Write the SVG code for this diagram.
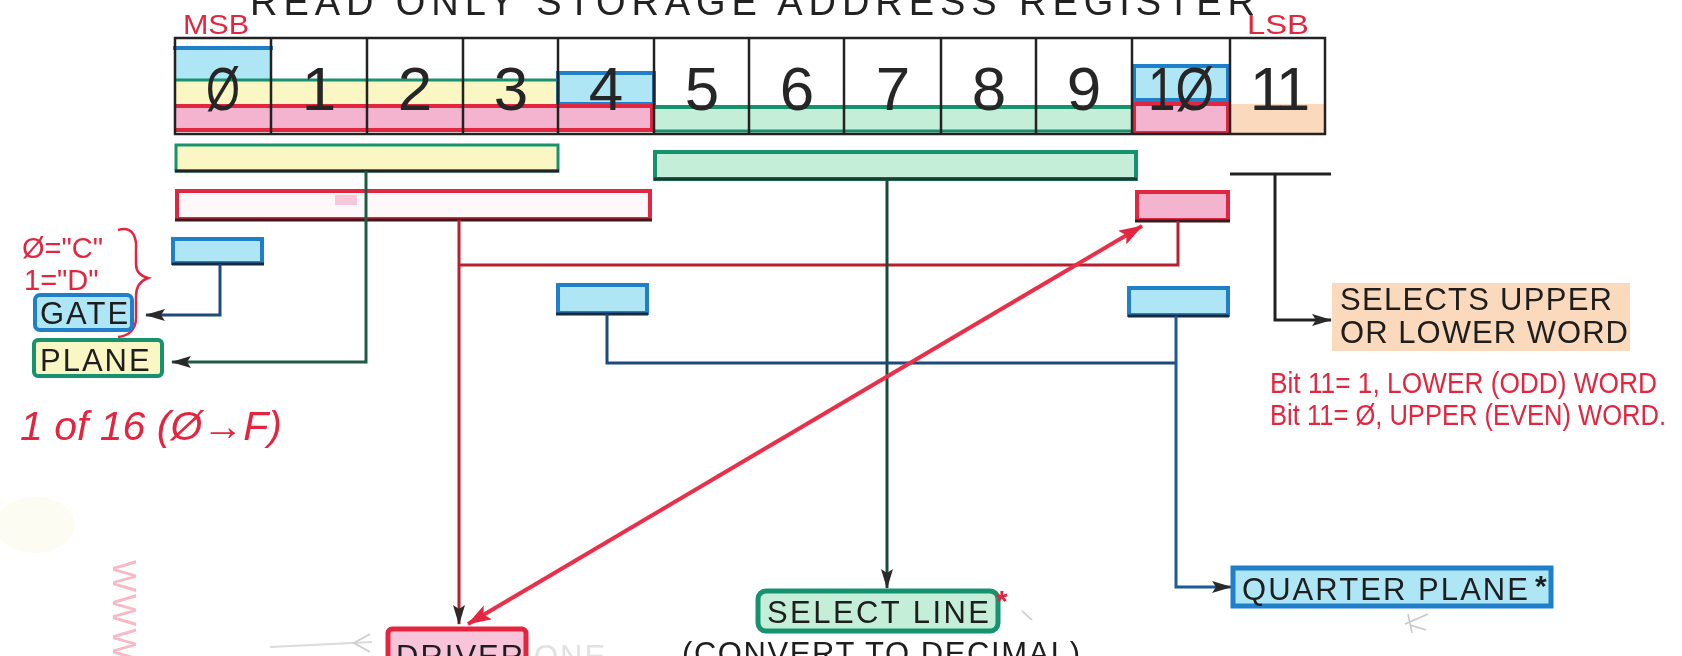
<svg xmlns="http://www.w3.org/2000/svg" width="1682" height="656" viewBox="0 0 1682 656">
<style>
  .sans{font-family:"Liberation Sans",Arial,sans-serif}
  .digit{font-family:"Liberation Sans",Arial,sans-serif;font-size:62px;fill:#262626;text-anchor:middle}
  .lbl{font-family:"Liberation Sans",Arial,sans-serif;font-size:31px;fill:#1e1e1e;letter-spacing:2px}
  .hand{font-family:"Liberation Sans",Arial,sans-serif;fill:#e3263f}
  .cyan{fill:#aee6f5}
  .yel{fill:#fbf7c4}
  .lgrn{fill:#c4eed8}
  .pink{fill:#f4b3cf}
  .peach{fill:#fad9bd}
  .bstroke{stroke:#1f7fc8;stroke-width:4}
  .gstroke{stroke:#16936e;stroke-width:4}
  .rstroke{stroke:#e3263f;stroke-width:4}
  .cell{fill:none;stroke:#222;stroke-width:2.5}
  .conn{fill:none;stroke-width:3}
</style>
<defs>
  <marker id="ahK" markerWidth="20" markerHeight="12" refX="19" refY="6" orient="auto" markerUnits="userSpaceOnUse">
    <path d="M0,0 L20,6 L0,12 L4,6 z" fill="#2a2a2a"/>
  </marker>
  <marker id="ahR" markerWidth="24" markerHeight="16" refX="23" refY="8" orient="auto-start-reverse" markerUnits="userSpaceOnUse">
    <path d="M0,0 L24,8 L0,16 L5,8 z" fill="#e3263f"/>
  </marker>
</defs>
<rect width="1682" height="656" fill="#ffffff"/>

<!-- faint background marks -->
<g id="faint" opacity="0.55">
  <ellipse cx="35" cy="525" rx="40" ry="28" fill="#fcfae8"/>
  <text class="sans" x="0" y="0" font-size="34" fill="#f27e95" transform="translate(113,560) rotate(90)" letter-spacing="2">WWW</text>
  <path d="M270,647 L372,642" stroke="#bdbdbd" stroke-width="2" fill="none"/>
  <path d="M370,634 L354,643 L370,652" stroke="#a8a8a8" stroke-width="2" fill="none"/>
  <text class="sans" x="534" y="667" font-size="31" fill="#c8c8c8" letter-spacing="2">ONE</text>
  <path d="M1022,611 L1032,620" stroke="#9a9a9a" stroke-width="1.5" fill="none"/>
  <path d="M1408,614 L1412,633 M1405,624 L1428,614 M1410,625 L1426,630" stroke="#9a9a9a" stroke-width="1.5" fill="none"/>
</g>

<!-- title (cut at top) -->
<g id="title">
  <text class="sans" x="250" y="15" font-size="38" fill="#222" textLength="1005" lengthAdjust="spacing">READ ONLY STORAGE ADDRESS REGISTER</text>
  <text class="hand" x="183" y="34" font-size="28" textLength="66" lengthAdjust="spacingAndGlyphs">MSB</text>
  <text class="hand" x="1247" y="34" font-size="28" textLength="62" lengthAdjust="spacingAndGlyphs">LSB</text>
</g>

<!-- register -->
<g id="register">
  <rect x="175" y="47" width="96" height="33" class="cyan"/>
  <line x1="173" y1="48" x2="273" y2="48" class="bstroke"/>
  <rect x="175" y="80" width="383" height="26" class="yel"/>
  <line x1="175" y1="80" x2="558" y2="80" stroke="#16936e" stroke-width="3"/>
  <rect x="175" y="106" width="479" height="24" class="pink"/>
  <rect x="558" y="73" width="96" height="31" class="cyan bstroke"/>
  <line x1="175" y1="106" x2="654" y2="106" class="rstroke"/>
  <line x1="175" y1="130" x2="654" y2="130" class="rstroke"/>
  <line x1="652" y1="104" x2="652" y2="132" class="rstroke"/>
  <rect x="654" y="107" width="478" height="25" class="lgrn"/>
  <line x1="654" y1="107" x2="1132" y2="107" class="gstroke"/>
  <line x1="654" y1="131" x2="1132" y2="131" stroke="#16936e" stroke-width="3"/>
  <rect x="1134" y="66" width="94" height="34" class="cyan bstroke"/>
  <rect x="1134" y="104" width="94" height="29" class="pink rstroke"/>
  <rect x="1230" y="104" width="95" height="30" class="peach"/>
  <rect x="175" y="38" width="1150" height="96" class="cell"/>
  <path class="cell" d="M271,38V134 M367,38V134 M463,38V134 M558,38V134 M654,38V134 M749,38V134 M844,38V134 M941,38V134 M1036,38V134 M1132,38V134 M1230,38V134"/>
  <text class="digit" x="223" y="110" textLength="34" lengthAdjust="spacingAndGlyphs">Ø</text>
  <text class="digit" x="319" y="110">1</text>
  <text class="digit" x="415" y="110">2</text>
  <text class="digit" x="511" y="110">3</text>
  <text class="digit" x="606" y="110">4</text>
  <text class="digit" x="702" y="110">5</text>
  <text class="digit" x="797" y="110">6</text>
  <text class="digit" x="893" y="110">7</text>
  <text class="digit" x="989" y="110">8</text>
  <text class="digit" x="1084" y="110">9</text>
  <text class="digit" x="1181" y="110" textLength="66" lengthAdjust="spacingAndGlyphs">1Ø</text>
  <text class="digit" x="1278" y="110" letter-spacing="-4">11</text>
</g>

<!-- field bars -->
<g id="bar-plane">
  <rect x="176" y="145" width="382" height="26" class="yel" stroke="#16936e" stroke-width="3"/>
  <line x1="175" y1="171" x2="559" y2="171" stroke="#222" stroke-width="3"/>
</g>
<g id="bar-select">
  <rect x="655" y="152" width="481" height="27" class="lgrn" stroke="#16936e" stroke-width="4"/>
  <line x1="654" y1="179" x2="1137" y2="179" stroke="#1d3a30" stroke-width="3"/>
</g>
<g id="bar-driver">
  <rect x="177" y="191" width="473" height="28" fill="#fff8fa" stroke="#e3263f" stroke-width="4"/>
  <rect x="335" y="195" width="22" height="10" fill="#f8c8da"/>
  <line x1="175" y1="220" x2="652" y2="220" stroke="#3a1a1e" stroke-width="3"/>
</g>
<g id="bar-driver-lsb">
  <rect x="1137" y="192" width="91" height="28" class="pink rstroke"/>
  <line x1="1135" y1="221" x2="1230" y2="221" stroke="#3a1a1e" stroke-width="3"/>
</g>
<g id="bar-gate">
  <rect x="173" y="239" width="89" height="24" class="cyan bstroke"/>
  <line x1="172" y1="264" x2="264" y2="264" stroke="#1a2a3a" stroke-width="3"/>
</g>
<g id="bar-qp-hi">
  <rect x="558" y="285" width="89" height="28" class="cyan bstroke"/>
  <line x1="556" y1="314" x2="648" y2="314" stroke="#1a2a3a" stroke-width="3"/>
</g>
<g id="bar-qp-lo">
  <rect x="1129" y="288" width="99" height="27" class="cyan bstroke"/>
  <line x1="1128" y1="316" x2="1229" y2="316" stroke="#1a2a3a" stroke-width="3"/>
</g>
<g id="bar-word">
  <line x1="1230" y1="174" x2="1331" y2="174" stroke="#222" stroke-width="3"/>
</g>

<!-- connectors -->
<g id="connectors">
  <path class="conn" d="M366,171 V362 H172" stroke="#1e5a44" marker-end="url(#ahK)"/>
  <path class="conn" d="M220,264 V315 H146" stroke="#1c4a7a" marker-end="url(#ahK)"/>
  <path class="conn" d="M459,220 V624" stroke="#b8202f" marker-end="url(#ahK)"/>
  <path class="conn" d="M459,265 H1178 V221" stroke="#b8202f"/>
  <path class="conn" d="M887,179 V588" stroke="#1a4a3a" stroke-width="2.5" marker-end="url(#ahK)"/>
  <path class="conn" d="M607,314 V363 H1176" stroke="#1c4a7a"/>
  <path class="conn" d="M1176,316 V587 H1231" stroke="#1c5a9a" marker-end="url(#ahK)"/>
  <path class="conn" d="M1275,174 V320 H1331" stroke="#222" stroke-width="2.5" marker-end="url(#ahK)"/>
  <path d="M468,624 L1142,226" stroke="#e8304a" stroke-width="4" fill="none" marker-start="url(#ahR)" marker-end="url(#ahR)"/>
</g>

<!-- left labels -->
<g id="gate-note">
  <text class="hand" x="22" y="258" font-size="29">Ø="C"</text>
  <text class="hand" x="24" y="290" font-size="29">1="D"</text>
  <path d="M118,230 C132,226 137,236 136,250 L136,264 C136,272 140,276 148,278 C140,281 136,286 136,296 L136,318 C136,330 128,336 118,337" fill="none" stroke="#e3263f" stroke-width="2.5"/>
</g>
<g id="gate">
  <rect x="35" y="295" width="97" height="35" rx="5" class="cyan bstroke"/>
  <text class="lbl" x="40" y="324" font-size="30" letter-spacing="1">GATE</text>
</g>
<g id="plane">
  <rect x="34" y="340" width="128" height="36" rx="4" class="yel gstroke"/>
  <text class="lbl" x="40" y="371" font-size="30" letter-spacing="2">PLANE</text>
</g>
<g id="plane-note">
  <text class="hand" x="20" y="440" font-size="40" font-style="italic" textLength="262" lengthAdjust="spacingAndGlyphs">1 of 16 (Ø→F)</text>
</g>

<!-- right labels -->
<g id="word-select">
  <rect x="1332" y="283" width="298" height="68" class="peach"/>
  <text class="sans" x="1340" y="310" font-size="31" fill="#1e1e1e" textLength="272" lengthAdjust="spacing">SELECTS UPPER</text>
  <text class="sans" x="1340" y="343" font-size="31" fill="#1e1e1e" textLength="288" lengthAdjust="spacing">OR LOWER WORD</text>
</g>
<g id="word-note">
  <text class="hand" x="1270" y="393" font-size="30" textLength="387" lengthAdjust="spacingAndGlyphs">Bit 11= 1, LOWER (ODD) WORD</text>
  <text class="hand" x="1270" y="425" font-size="30" textLength="396" lengthAdjust="spacingAndGlyphs">Bit 11= Ø, UPPER (EVEN) WORD.</text>
</g>

<!-- bottom labels -->
<g id="driver">
  <rect x="388" y="629" width="138" height="40" rx="4" fill="#f8c4da" stroke="#e3263f" stroke-width="5"/>
  <text class="lbl" x="396" y="667">DRIVER</text>
</g>
<g id="select-line">
  <rect x="758" y="591" width="240" height="40" rx="8" class="lgrn" stroke="#16936e" stroke-width="5"/>
  <text class="lbl" x="767" y="623" textLength="224" lengthAdjust="spacing">SELECT LINE</text>
  <text class="hand" x="996" y="611" font-size="30" font-weight="bold">*</text>
  <text class="lbl" x="682" y="664" textLength="400" lengthAdjust="spacing">(CONVERT TO DECIMAL)</text>
</g>
<g id="quarter-plane">
  <rect x="1233" y="568" width="318" height="38" class="cyan" stroke="#1f7fc8" stroke-width="5"/>
  <text class="lbl" x="1242" y="600" textLength="288" lengthAdjust="spacing">QUARTER PLANE</text>
  <text class="sans" x="1535" y="596" font-size="30" font-weight="bold" fill="#1e1e1e">*</text>
</g>
</svg>
